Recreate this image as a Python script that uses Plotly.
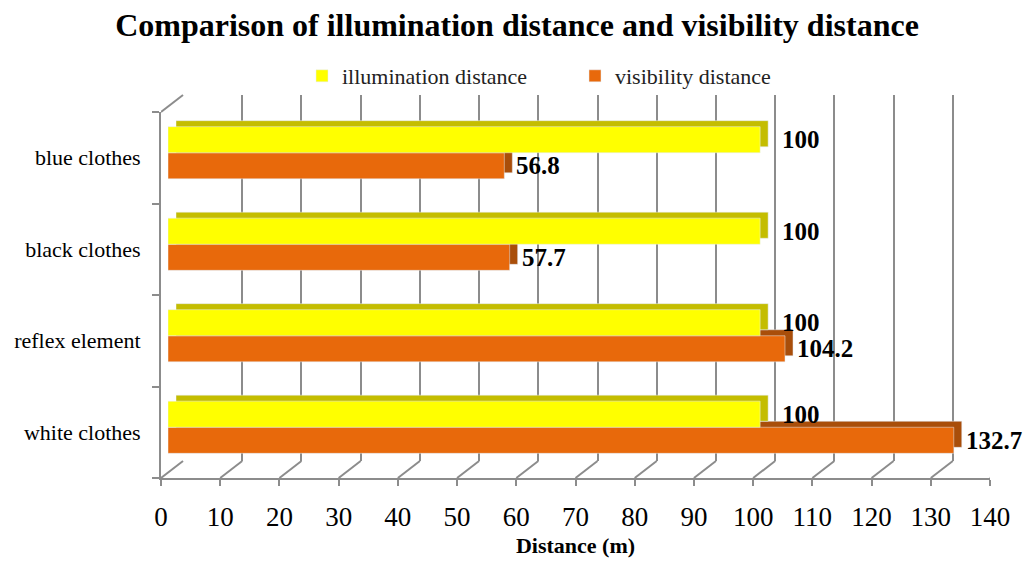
import plotly.graph_objects as go

# ---- data ----
categories = ["white clothes", "reflex element", "black clothes", "blue clothes"]
illumination = [100, 100, 100, 100]
visibility = [132.7, 104.2, 57.7, 56.8]
x_ticks = list(range(0, 141, 10))

# ---- geometry helpers (page pixel -> paper); page body has an 8px margin ----
OFF = 8
W, H = 1034 - OFF, 563 - OFF
def fx(px):
    return (px - OFF) / W
def fy(py):
    return 1 - (py - OFF) / H

X0, X1 = 161, 990          # front axis extent
YT, YB = 112, 478          # front category extent
DX, DY = 22, 17            # depth of back wall
BX, BY = 7, -5             # front face of bars relative to front axes
EX, EY = 8, -6             # bar extrusion depth

GRID = "#8c8c8c"
YEL, YEL_D = "#FFFF00", "#C4BD00"
ORA, ORA_D = "#E8690B", "#A94E0A"
FONT = "Liberation Serif"

fig = go.Figure()

# front axes carrier (invisible)
fig.add_trace(go.Scatter(x=[0] * len(categories), y=categories, mode="markers",
                         marker=dict(opacity=0), showlegend=False, hoverinfo="skip",
                         xaxis="x", yaxis="y"))
# back wall carrier (invisible)
fig.add_trace(go.Scatter(x=[0, 140], y=[0, 1], mode="markers", marker=dict(opacity=0),
                         showlegend=False, hoverinfo="skip", xaxis="x2", yaxis="y2"))
# extrusion (depth) bars
fig.add_trace(go.Bar(y=categories, x=visibility, orientation="h", marker=dict(color=ORA_D),
                     showlegend=False, hoverinfo="skip", xaxis="x3", yaxis="y3"))
fig.add_trace(go.Bar(y=categories, x=illumination, orientation="h", marker=dict(color=YEL_D),
                     showlegend=False, hoverinfo="skip", xaxis="x3", yaxis="y3"))
# front faces
fig.add_trace(go.Bar(y=categories, x=visibility, orientation="h", name="visibility distance",
                     marker=dict(color=ORA), xaxis="x4", yaxis="y4"))
fig.add_trace(go.Bar(y=categories, x=illumination, orientation="h", name="illumination distance",
                     marker=dict(color=YEL), xaxis="x4", yaxis="y4"))

cat_axis = dict(type="category", categoryorder="array", categoryarray=categories,
                range=[-0.5, len(categories) - 0.5])

annotations = []
for c, v in zip(categories, illumination):
    annotations.append(dict(x=v, y=c, xref="x4", yref="y4", text=f"<b>{v:g}</b>",
                            showarrow=False, xanchor="left", yanchor="middle",
                            xshift=20, yshift=13, font=dict(family=FONT, size=25, color="black")))
for c, v in zip(categories, visibility):
    annotations.append(dict(x=v, y=c, xref="x4", yref="y4", text=f"<b>{v:g}</b>",
                            showarrow=False, xanchor="left", yanchor="middle",
                            xshift=10, yshift=-13, font=dict(family=FONT, size=25, color="black")))

shapes = []
# floor diagonals
for t in x_ticks:
    shapes.append(dict(type="line", xref="x", xsizemode="pixel", xanchor=t, x0=0, x1=DX,
                       yref="paper", ysizemode="pixel", yanchor=fy(YB), y0=0, y1=DY,
                       line=dict(color=GRID, width=2)))
# left wall top diagonal
shapes.append(dict(type="line", xref="x", xsizemode="pixel", xanchor=0, x0=0, x1=DX,
                   yref="paper", ysizemode="pixel", yanchor=fy(YT), y0=0, y1=DY,
                   line=dict(color=GRID, width=2)))

fig.update_layout(
    width=W, height=H, autosize=False,
    margin=dict(l=0, r=0, t=0, b=0, pad=0, autoexpand=False),
    paper_bgcolor="white", plot_bgcolor="rgba(0,0,0,0)",
    barmode="group", bargap=0.43, bargroupgap=0,
    font=dict(family=FONT, color="black"),
    title=dict(text="<b>Comparison of illumination distance and visibility distance</b>",
               x=0.5 * (W + OFF) / W - OFF / W, xanchor="center", y=fy(25), yanchor="middle",
               font=dict(family=FONT, size=32, color="black")),
    legend=dict(orientation="h", x=fx(302), xanchor="left", y=fy(76), yanchor="middle",
                traceorder="reversed", font=dict(family=FONT, size=22, color="#222"),
                entrywidth=228, bgcolor="rgba(0,0,0,0)"),
    xaxis=dict(domain=[fx(X0), fx(X1)], range=[0, 140], tickvals=x_ticks, anchor="y",
               automargin=False,
               title=dict(text="<b>Distance (m)</b>", standoff=6,
                          font=dict(family=FONT, size=22, color="black")),
               showgrid=False, zeroline=False, showline=True, linecolor=GRID, linewidth=2,
               ticks="outside", ticklen=6, tickwidth=2, tickcolor=GRID,
               tickfont=dict(family=FONT, size=27, color="black"), ticklabelstandoff=8,
               fixedrange=True),
    yaxis=dict(domain=[fy(YB), fy(YT)], anchor="x", showgrid=False, zeroline=False,
               automargin=False,
               showline=True, linecolor=GRID, linewidth=2, ticks="outside", ticklen=7,
               tickwidth=2, tickcolor=GRID, tickson="boundaries",
               tickfont=dict(family=FONT, size=22, color="black"), ticklabelstandoff=14,
               **cat_axis),
    xaxis2=dict(domain=[fx(X0 + DX), fx(X1 + DX)], range=[0, 140], tickvals=x_ticks,
                automargin=False,
                anchor="y2", showgrid=True, gridcolor=GRID, gridwidth=2, zeroline=False,
                showline=False, showticklabels=False, ticks=""),
    yaxis2=dict(domain=[fy(YB - DY), fy(YT - DY)], anchor="x2", range=[0, 1], visible=False,
                automargin=False),
    xaxis3=dict(domain=[fx(X0 + BX + EX), fx(X1 + BX + EX)], range=[0, 140], anchor="y3",
                visible=False, automargin=False),
    yaxis3=dict(domain=[fy(YB + BY + EY), fy(YT + BY + EY)], anchor="x3", visible=False,
                automargin=False, **cat_axis),
    xaxis4=dict(domain=[fx(X0 + BX), fx(X1 + BX)], range=[0, 140], anchor="y4", visible=False,
                automargin=False),
    yaxis4=dict(domain=[fy(YB + BY), fy(YT + BY)], anchor="x4", visible=False,
                automargin=False, **cat_axis),
    annotations=annotations,
    shapes=shapes,
)

fig.write_html("out.html")
